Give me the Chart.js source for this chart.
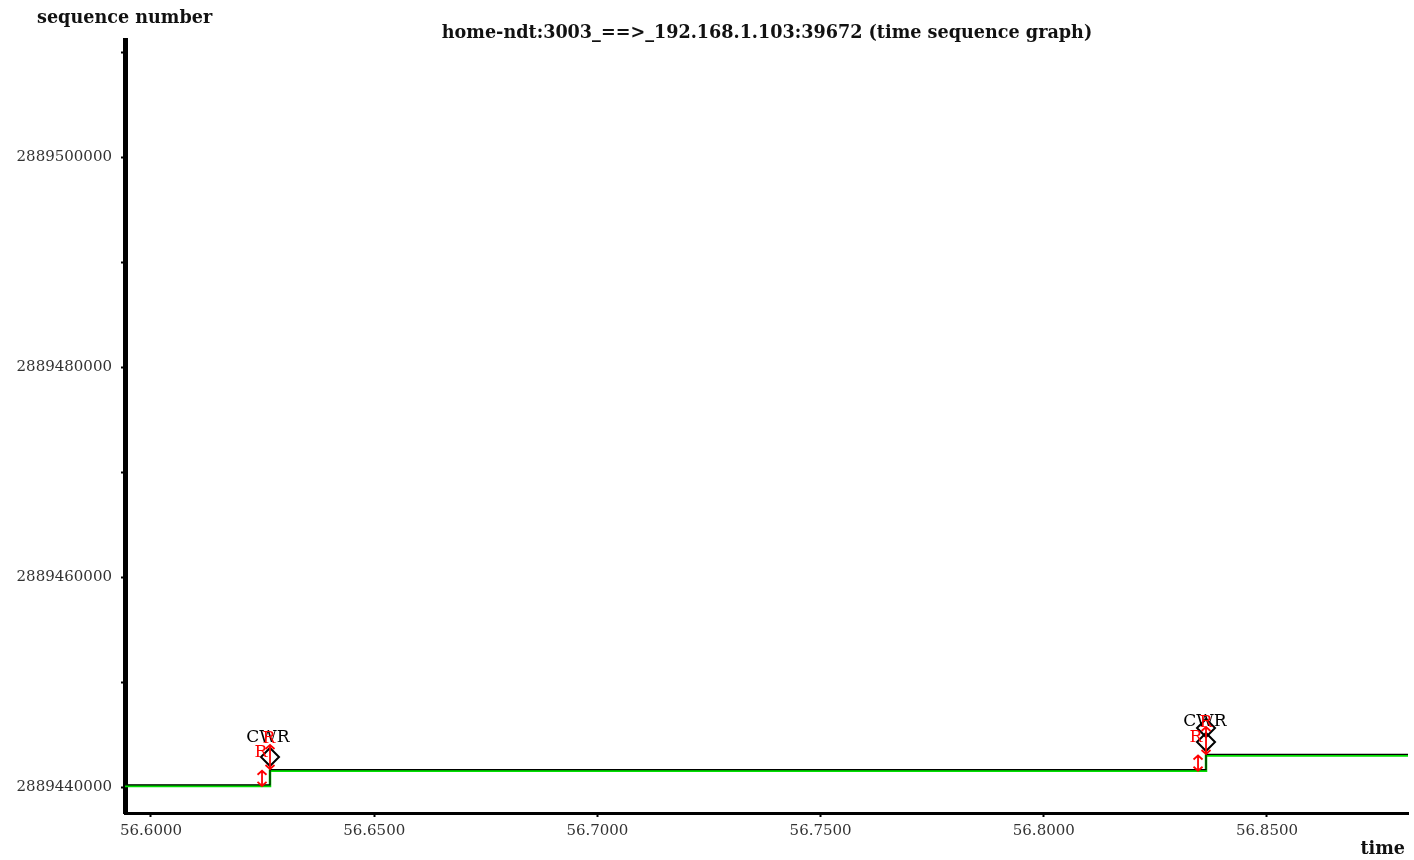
<!DOCTYPE html>
<html>
<head>
<meta charset="utf-8">
<title>home-ndt:3003_==>_192.168.1.103:39672 (time sequence graph)</title>
<script src="https://cdn.jsdelivr.net/npm/chart.js@4.4.1/dist/chart.umd.min.js"></script>
<style>
  html, body { margin: 0; padding: 0; background: #fff; }
  canvas { display: block; }
</style>
</head>
<body>
<canvas id="tsg" width="1414" height="860"></canvas>
<script>
// ---- time sequence data (time in s, sequence numbers) ----
const timeRange = [56.594176, 56.881586];
const seqRange = [2889437524, 2889511143];

// cumulative ACK line (step changes)
const ackTimes = [56.594176, 56.62666, 56.83634, 56.881586];
const ackSeqs  = [2889440100, 2889441548, 2889442996];

// data segments sent (vertical I-bars)
const segTimes = [56.62487, 56.83455];
const segStart = [2889440100, 2889441548];
const segEnd   = [2889441548, 2889442996];

// flagged (CWR) segments: short red arrows
const flagTimes = [56.62666, 56.83634];
const flagStart = [2889441714, 2889443143];
const flagEnd   = [2889444000, 2889445714];

// diamond markers
const diamondTimes = [56.62666, 56.83634, 56.83634];
const diamondSeqs  = [2889442857, 2889445619, 2889444286];

// text markers
const markTimes  = [56.62621, 56.83611, 56.62643, 56.62464, 56.83634, 56.83410];
const markSeqs   = [2889444667, 2889446190, 2889444571, 2889443238, 2889446095, 2889444667];
const markTexts  = ['CWR', 'CWR', 'R', 'R', 'R', 'R'];
const markColors = ['#000000', '#000000', '#ff0000', '#ff0000', '#ff0000', '#ff0000'];

// axis ticks
const xTickValues = [56.60, 56.65, 56.70, 56.75, 56.80, 56.85];
const xTickLabels = ['56.6000', '56.6500', '56.7000', '56.7500', '56.8000', '56.8500'];
const yTickValues = [2889440000, 2889450000, 2889460000, 2889470000, 2889480000, 2889490000, 2889500000, 2889510000];
const yTickLabels = ['2889440000', '', '2889460000', '', '2889480000', '', '2889500000', ''];

const titleText = 'home-ndt:3003_==>_192.168.1.103:39672 (time sequence graph)';
const yTitleText = 'sequence number';
const xTitleText = 'time';

// build step-line points from the ack arrays
function stepPoints(times, seqs, offset) {
  const pts = [];
  for (let i = 0; i < seqs.length; i++) {
    pts.push({ x: times[i], y: seqs[i] + offset });
    pts.push({ x: times[i + 1], y: seqs[i] + offset });
  }
  return pts;
}

const serif = '"DejaVu Serif", "Liberation Serif", serif';

function drawIBar(ctx, x, yTop, yBot, color) {
  const hw = 4.5, hh = 4;
  ctx.save();
  ctx.strokeStyle = color;
  ctx.lineWidth = 1.8;
  ctx.beginPath();
  ctx.moveTo(x, yTop); ctx.lineTo(x, yBot);
  ctx.moveTo(x - hw, yTop + hh); ctx.lineTo(x, yTop); ctx.lineTo(x + hw, yTop + hh);
  ctx.moveTo(x - hw, yBot - hh); ctx.lineTo(x, yBot); ctx.lineTo(x + hw, yBot - hh);
  ctx.stroke();
  ctx.restore();
}

const decorations = {
  id: 'decorations',
  beforeDraw(chart) {
    const ctx = chart.ctx;
    ctx.save();
    ctx.fillStyle = '#ffffff';
    ctx.fillRect(0, 0, chart.width, chart.height);
    ctx.restore();
  },
  afterDatasetsDraw(chart) {
    const ctx = chart.ctx;
    const xs = chart.scales.x, ys = chart.scales.y;
    segTimes.forEach((t, i) => {
      drawIBar(ctx, xs.getPixelForValue(t), ys.getPixelForValue(segEnd[i]), ys.getPixelForValue(segStart[i]), '#ff0000');
    });
    flagTimes.forEach((t, i) => {
      drawIBar(ctx, xs.getPixelForValue(t), ys.getPixelForValue(flagEnd[i]), ys.getPixelForValue(flagStart[i]), '#ff0000');
    });
    ctx.save();
    ctx.textAlign = 'center';
    ctx.textBaseline = 'middle';
    ctx.font = '17px ' + serif;
    markTimes.forEach((t, i) => {
      ctx.fillStyle = markColors[i];
      ctx.fillText(markTexts[i], xs.getPixelForValue(t), ys.getPixelForValue(markSeqs[i]));
    });
    ctx.restore();
  },
  afterDraw(chart) {
    const ctx = chart.ctx;
    const a = chart.chartArea;
    ctx.save();
    ctx.fillStyle = '#111';
    ctx.textBaseline = 'middle';
    ctx.font = 'bold 17.6px ' + serif;
    ctx.textAlign = 'center';
    ctx.fillText(titleText, 767, 33);
    ctx.textAlign = 'left';
    ctx.fillText(yTitleText, 37, 18);
    ctx.textAlign = 'right';
    ctx.fillText(xTitleText, a.right - 3, 849);
    ctx.restore();
  }
};

new Chart(document.getElementById('tsg'), {
  type: 'scatter',
  data: {
    datasets: [
      {
        label: 'ack',
        data: stepPoints(ackTimes, ackSeqs, 0),
        showLine: true,
        borderColor: '#00e000',
        borderWidth: 2.5,
        pointRadius: 0,
        order: 3
      },
      {
        label: 'ack-edge',
        data: stepPoints(ackTimes, ackSeqs, 110),
        showLine: true,
        borderColor: '#000000',
        borderWidth: 1.2,
        pointRadius: 0,
        order: 2
      },
      {
        label: 'marks',
        data: diamondTimes.map((t, i) => ({ x: t, y: diamondSeqs[i] })),
        showLine: false,
        pointStyle: 'rectRot',
        pointRadius: 9,
        borderColor: '#000000',
        backgroundColor: 'rgba(0,0,0,0)',
        borderWidth: 2,
        order: 1
      }
    ]
  },
  options: {
    responsive: false,
    animation: false,
    events: [],
    layout: { autoPadding: false, padding: { top: 40, right: 6, left: 0, bottom: 0 } },
    plugins: {
      legend: { display: false },
      title: { display: false },
      tooltip: { enabled: false }
    },
    scales: {
      x: {
        type: 'linear',
        min: timeRange[0],
        max: timeRange[1],
        afterFit(scale) {
          scale.height = 47;
          scale.paddingLeft = 0;
          scale.paddingRight = 0;
        },
        afterBuildTicks(scale) { scale.ticks = xTickValues.map(v => ({ value: v })); },
        ticks: {
          autoSkip: false,
          maxRotation: 0,
          padding: 5,
          color: '#333',
          font: { family: serif, size: 15 },
          callback(value, index) { return xTickLabels[index]; }
        },
        grid: {
          display: true,
          drawOnChartArea: false,
          drawTicks: true,
          tickLength: 4,
          tickWidth: 2,
          tickColor: '#000'
        },
        border: { display: true, color: '#000', width: 3 }
      },
      y: {
        type: 'linear',
        min: seqRange[0],
        max: seqRange[1],
        afterFit(scale) {
          scale.width = 125;
          scale.paddingTop = 0;
          scale.paddingBottom = 0;
        },
        afterBuildTicks(scale) { scale.ticks = yTickValues.map(v => ({ value: v })); },
        ticks: {
          autoSkip: false,
          padding: 9,
          color: '#333',
          font: { family: serif, size: 15 },
          callback(value, index) { return yTickLabels[index]; }
        },
        grid: {
          display: true,
          drawOnChartArea: false,
          drawTicks: true,
          tickLength: 4,
          tickWidth: 2,
          tickColor: '#000'
        },
        border: { display: true, color: '#000', width: 5 }
      }
    }
  },
  plugins: [decorations]
});
</script>
</body>
</html>
